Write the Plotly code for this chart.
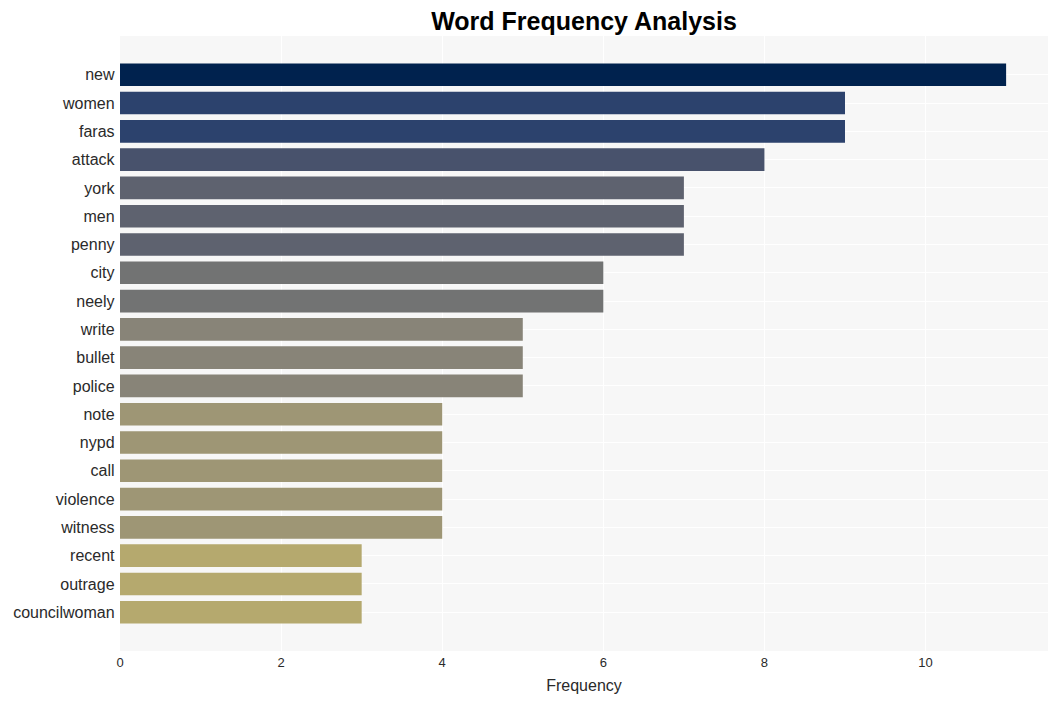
import plotly.graph_objects as go

words = ["new", "women", "faras", "attack", "york", "men", "penny", "city", "neely",
         "write", "bullet", "police", "note", "nypd", "call", "violence", "witness",
         "recent", "outrage", "councilwoman"]
counts = [11, 9, 9, 8, 7, 7, 7, 6, 6, 5, 5, 5, 4, 4, 4, 4, 4, 3, 3, 3]

ys = words[::-1]
xs = counts[::-1]

fig = go.Figure(go.Bar(
    x=xs, y=ys, orientation="h",
    marker=dict(color=xs, colorscale="Cividis", reversescale=True, cmin=0, cmax=11,
                line=dict(width=0)),
))

fig.update_layout(
    width=1052, height=693,
    margin=dict(l=112, r=12, t=28, b=50),
    paper_bgcolor="white",
    plot_bgcolor="#f7f7f7",
    font=dict(family="Liberation Sans, Arial, sans-serif", color="#2a2a2a"),
    title=dict(text="<b>Word Frequency Analysis</b>", x=0.5, xref="paper", xanchor="center",
               y=0.981, yanchor="middle", yref="container", font=dict(size=25, color="black")),
    bargap=0.2,
    showlegend=False,
)
fig.update_xaxes(range=[0, 11.52], dtick=2, gridcolor="white", gridwidth=1, zeroline=False,
                 tickfont=dict(size=13), ticklabelstandoff=2,
                 title=dict(text="Frequency", font=dict(size=16), standoff=10),
                 ticks="", showline=False, automargin=False)
fig.update_yaxes(range=[-1.37, 20.37], gridcolor="white", tickfont=dict(size=16), ticks="",
                 ticksuffix=" ", showline=False, automargin=False)

fig.write_html("out.html")
